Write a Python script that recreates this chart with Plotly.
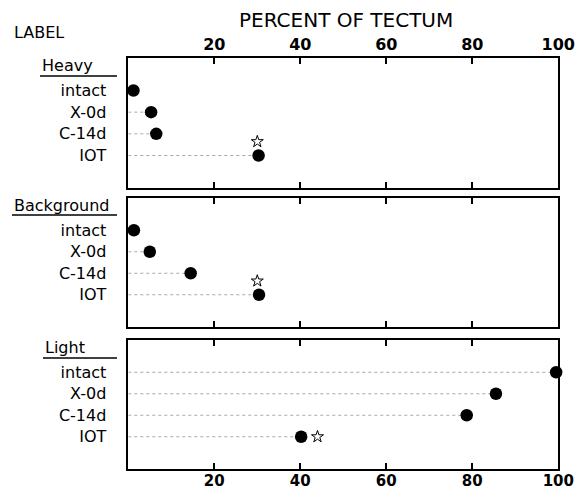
import plotly.graph_objects as go

# ---- data ----
rows = ["intact", "X-0d", "C-14d", "IOT"]
groups = ["Heavy", "Background", "Light"]
heavy = [1.2, 5.3, 6.5, 30.3]
background = [1.3, 5.0, 14.5, 30.4]
light = [99.5, 85.5, 78.7, 40.2]
star_iot = [30.0, 30.0, 44.0]
tick_vals = [20, 40, 60, 80, 100]
tick_text = ["20", "40", "60", "80", "100"]
values = [heavy, background, light]

W, H = 579, 493
FONT = "DejaVu Sans"


def px_x(x):
    return x / W


def px_y(y):
    return 1 - y / H


x_dom = [px_x(128.3), px_x(558.3)]
panels_px = [(58, 188), (198, 327), (340, 469)]

fig = go.Figure()
layout = dict(
    width=W, height=H, margin=dict(l=0, r=0, t=0, b=0, autoexpand=False),
    paper_bgcolor="white", plot_bgcolor="white", showlegend=False,
    font=dict(family=FONT, color="black"),
)

for i, (g, vals) in enumerate(zip(groups, values)):
    n = "" if i == 0 else str(i + 1)
    xa, ya = "x" + n, "y" + n
    top, bot = panels_px[i]
    # leader dotted lines
    for r, v in enumerate(vals):
        fig.add_trace(go.Scatter(x=[0, v], y=[r, r], mode="lines", xaxis=xa, yaxis=ya,
                                 line=dict(color="#a8a8a8", width=1, dash="dot"),
                                 hoverinfo="skip"))
    fig.add_trace(go.Scatter(x=vals, y=list(range(len(rows))), mode="markers",
                             xaxis=xa, yaxis=ya, cliponaxis=False,
                             marker=dict(size=12.5, color="black")))
    # star: raise above IOT dot if it would overlap
    sy = 3 - 0.64 if abs(star_iot[i] - vals[3]) < 3 else 3
    fig.add_trace(go.Scatter(x=[star_iot[i]], y=[sy], mode="markers",
                             xaxis=xa, yaxis=ya, cliponaxis=False,
                             marker=dict(symbol="star-open", size=9, color="black",
                                         line=dict(width=1, color="black"))))
    xaxis = dict(domain=x_dom, anchor=ya, range=[0, 100], tickvals=tick_vals,
                 ticktext=tick_text, ticks="inside", ticklen=6, tickwidth=1.5,
                 tickcolor="black", showline=True, linecolor="black", linewidth=1.5,
                 mirror="ticks", showgrid=False, zeroline=False, automargin=False,
                 tickfont=dict(family=FONT, size=16, color="black", weight="bold"))
    if i == 0:
        xaxis.update(side="top")
    elif i == 1:
        xaxis.update(showticklabels=False)
    else:
        xaxis.update(ticklabelstandoff=-3,
                     tickfont=dict(family=FONT, size=15, color="black", weight="bold"))
    yaxis = dict(domain=[px_y(bot), px_y(top)], anchor=xa, range=[4.5, -1.5],
                 tickvals=list(range(len(rows))), ticktext=rows, ticks="",
                 ticklabelstandoff=17, showline=True, linecolor="black",
                 linewidth=1.5, mirror=True, showgrid=False, zeroline=False,
                 automargin=False,
                 tickfont=dict(family=FONT, size=16, color="black"))
    layout["xaxis" + n] = xaxis
    layout["yaxis" + n] = yaxis

annotations = [
    dict(text="PERCENT OF TECTUM", x=px_x(346), y=px_y(20), font=dict(size=20)),
    dict(text="LABEL", x=px_x(12), y=px_y(33), xanchor="left", font=dict(size=16)),
    dict(text="Heavy", x=px_x(40), y=px_y(65), xanchor="left", font=dict(size=16)),
    dict(text="Background", x=px_x(12), y=px_y(205), xanchor="left", font=dict(size=16)),
    dict(text="Light", x=px_x(43), y=px_y(347), xanchor="left", font=dict(size=16)),
]
for a in annotations:
    a.update(xref="paper", yref="paper", showarrow=False, yanchor="middle")
    a.setdefault("xanchor", "center")
layout["annotations"] = annotations

underlines = [(40, 117, 76), (12, 117, 215), (43, 117, 358)]
layout["shapes"] = [
    dict(type="line", xref="paper", yref="paper", x0=px_x(a), x1=px_x(b),
         y0=px_y(y), y1=px_y(y), line=dict(color="black", width=1.5))
    for a, b, y in underlines
]

fig.update_layout(**layout)
fig.write_html("out.html")
